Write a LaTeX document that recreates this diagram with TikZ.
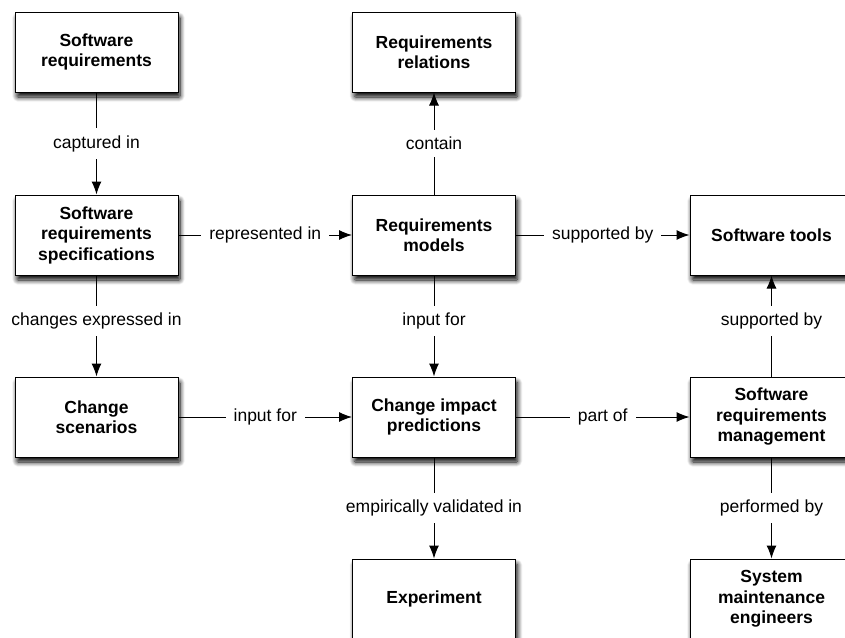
\documentclass[tikz,border=0pt]{standalone}
\usepackage{fontspec}
\setmainfont{Liberation Sans}
\usetikzlibrary{arrows.meta,shadows.blur}
\tikzset{
  box/.style={draw=black, line width=1pt, fill=white, minimum width=163pt, minimum height=80pt,
    align=center, inner sep=2pt, font=\fontsize{17.5}{20.5}\selectfont\bfseries,
    blur shadow={shadow xshift=2pt, shadow yshift=-5pt, shadow blur steps=10, shadow blur radius=5pt, shadow opacity=100, shadow blur extra rounding=1pt}},
  conn/.style={draw=black, line width=1pt, -{Latex[length=13pt,width=10pt]}},
  lbl/.style={fill=white, inner xsep=8pt, inner ysep=7pt, font=\fontsize{17.5}{20.5}\selectfont}
}
\begin{document}
\begin{tikzpicture}[x=1pt,y=-1pt]
\clip (0,0) rectangle (845,637);
\useasboundingbox (0,0) rectangle (845,637);
\node[box] (sr)  at (96.5,52)  {Software\\requirements};
\node[box] (rr)  at (434,52)   {Requirements\\relations};
\node[box] (srs) at (96.5,235) {Software\\requirements\\specifications};
\node[box] (rm)  at (434,235)  {Requirements\\models};
\node[box] (st)  at (771.5,235) {Software tools};
\node[box] (cs)  at (96.5,417) {Change\\scenarios};
\node[box] (cip) at (434,417)  {Change impact\\predictions};
\node[box] (srm) at (771.5,417) {Software\\requirements\\management};
\node[box] (ex)  at (434,599)  {Experiment};
\node[box] (sme) at (771.5,599) {System\\maintenance\\engineers};

\draw[conn] (sr) -- node[lbl] {captured in} (srs);
\draw[conn] (srs) -- node[lbl] {represented in} (rm);
\draw[conn] (rm) -- node[lbl] {contain} (rr);
\draw[conn] (rm) -- node[lbl] {supported by} (st);
\draw[conn] (srs) -- node[lbl, pos=0.45] {changes expressed in} (cs);
\draw[conn] (rm) -- node[lbl, pos=0.45] {input for} (cip);
\draw[conn] (cs) -- node[lbl] {input for} (cip);
\draw[conn] (cip) -- node[lbl] {part of} (srm);
\draw[conn] (srm) -- node[lbl, pos=0.55] {supported by} (st);
\draw[conn] (cip) -- node[lbl] {empirically validated in} (ex);
\draw[conn] (srm) -- node[lbl] {performed by} (sme);
\end{tikzpicture}
\end{document}
